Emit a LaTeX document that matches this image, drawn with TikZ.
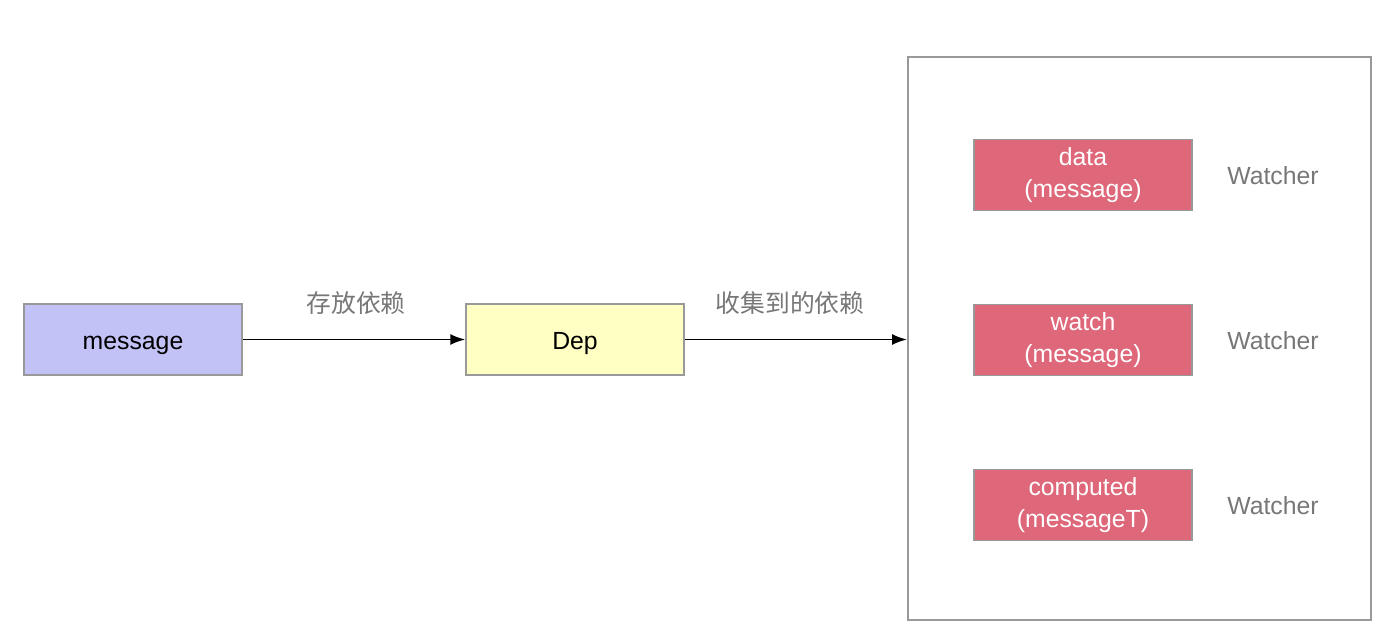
\documentclass[tikz,border=0pt]{standalone}
\usepackage{fontspec}
\setmainfont{Liberation Sans}
\newfontfamily\cjk{Noto Sans CJK SC}
\usetikzlibrary{arrows.meta}
\definecolor{lav}{HTML}{C2C2F7}
\definecolor{pale}{HTML}{FFFFC4}
\definecolor{rose}{HTML}{DE6779}
\definecolor{edge}{HTML}{999999}
\definecolor{txtgray}{HTML}{777777}
\begin{document}
\begin{tikzpicture}[x=0.5pt,y=-0.5pt,>={Latex[length=7.5pt,width=5.5pt]},
  blk/.style={draw=edge,line width=0.75pt,minimum width=109pt,minimum height=35.5pt,inner sep=0pt,align=center,font=\fontsize{12.4}{15.8}\selectfont},
  single/.style={blk,text height=10.5pt,text depth=0.5pt},
  watcher/.style={blk,fill=rose,text=white},
  wlab/.style={text=txtgray,font=\fontsize{12.4}{14}\selectfont},
  cn/.style={text=txtgray,font=\cjk\fontsize{12.4}{14}\selectfont}]
  \useasboundingbox (0,0) rectangle (1396,636);
  \node[draw=edge,line width=1pt,minimum width=231.5pt,minimum height=281.5pt,inner sep=0pt] (box) at (1139.5,338.5) {};
  \node[single,fill=lav] (msg) at (133,339.5) {message};
  \node[single,fill=pale] (dep) at (575,339.5) {Dep};
  \node[watcher] (d) at (1083,175) {data\\(message)};
  \node[watcher] (w) at (1083,340) {watch\\(message)};
  \node[watcher] (c) at (1083,505) {computed\\(messageT)};
  \node[wlab] (wd) at (1273,176) {Watcher};
  \node[wlab] (ww) at (1273,341) {Watcher};
  \node[wlab] (wc) at (1273,506) {Watcher};
  \node[cn] (l1) at (356,303) {存放依赖};
  \node[cn] (l2) at (790,303) {收集到的依赖};
  \draw[->,line width=0.9pt] (msg) -- (dep);
  \draw[->,line width=0.9pt] (dep.east) -- (dep.east -| box.west);
\end{tikzpicture}
\end{document}
